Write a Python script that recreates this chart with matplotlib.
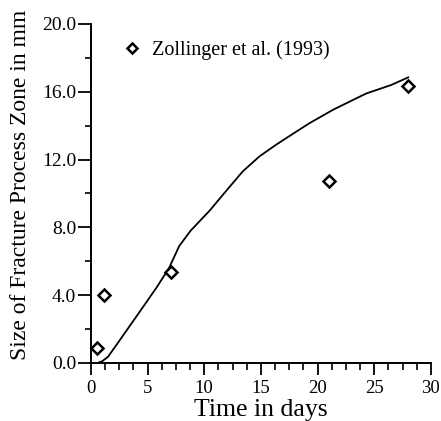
import matplotlib
matplotlib.use("Agg")
import matplotlib.pyplot as plt
from matplotlib.ticker import MultipleLocator, FormatStrFormatter

# measured points (Zollinger et al. 1993)
days_meas = [0.55, 1.15, 7.05, 21.0, 27.95]
fpz_meas = [0.9, 4.0, 5.35, 10.75, 16.35]

# model curve
days_model = [0.6, 1.0, 1.5, 2.3, 3.4, 4.5, 5.8, 6.9, 7.8, 8.8, 10.5, 12.0,
              13.4, 14.9, 16.4, 17.9, 19.3, 21.4, 24.3, 26.5, 28.0]
fpz_model = [0.0, 0.1, 0.35, 1.1, 2.15, 3.2, 4.45, 5.6, 6.9, 7.8, 9.0, 10.2,
             11.3, 12.2, 12.9, 13.55, 14.15, 14.95, 15.9, 16.4, 16.85]

plt.rcParams['font.family'] = ['Liberation Serif', 'DejaVu Serif']

fig = plt.figure(figsize=(4.41, 4.21), dpi=100)
ax = fig.add_axes([0.206, 0.138, 0.771, 0.805])

ax.plot(days_model, fpz_model, color='black', lw=1.3)
ax.plot(days_meas, fpz_meas, 'D', ms=6.5, mfc='white', mec='black', mew=1.8,
        label='Zollinger et al. (1993)', clip_on=False, zorder=3)

ax.set_xlim(0, 30)
ax.set_ylim(0, 20)
ax.spines['top'].set_visible(False)
ax.spines['right'].set_visible(False)
ax.spines['left'].set_linewidth(1.4)
ax.spines['bottom'].set_linewidth(1.4)

ax.xaxis.set_major_locator(MultipleLocator(5))
ax.xaxis.set_minor_locator(MultipleLocator(1.25))
ax.yaxis.set_major_locator(MultipleLocator(4))
ax.yaxis.set_minor_locator(MultipleLocator(2))
ax.yaxis.set_major_formatter(FormatStrFormatter('%.1f'))

ax.tick_params(axis='x', which='major', length=8.6, width=1.3, labelsize=13.5, pad=4)
ax.tick_params(axis='x', which='minor', length=4.8, width=1.2)
ax.tick_params(axis='y', which='major', length=9.5, width=1.3, labelsize=14, pad=1)
ax.tick_params(axis='y', which='minor', length=4.3, width=1.2)

ax.set_xlabel('Time in days', fontsize=18.5)
ax.xaxis.set_label_coords(0.5, -0.106)
ax.set_ylabel('Size of Fracture Process Zone in mm', fontsize=17)
ax.yaxis.set_label_coords(-0.176, 0.525)

ax.legend(loc='upper left', bbox_to_anchor=(0.044, 1.005), frameon=False,
          fontsize=14.5, handlelength=0.8, handletextpad=0.6, markerscale=0.8)

fig.savefig('out.png', dpi=100)
